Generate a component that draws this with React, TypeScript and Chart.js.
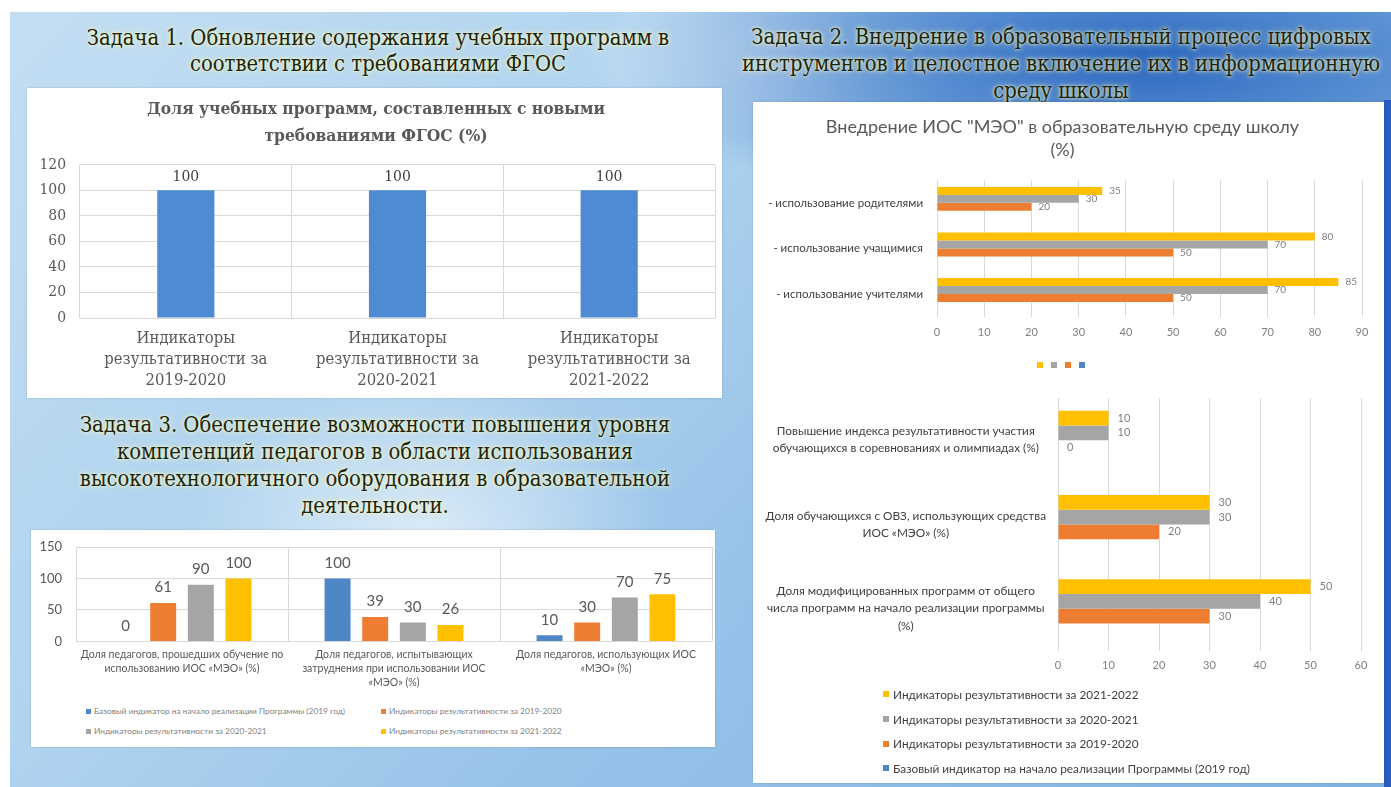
import React, { useEffect, useRef } from 'react';
import { Chart, registerables } from 'chart.js';

Chart.register(...registerables);

const SERIF = '"DejaVu Serif Condensed", "Liberation Serif", serif';
const SANS = 'Lato, "Open Sans", sans-serif';

// ---------- data ----------
const seriesNames = [
  'Базовый индикатор на начало реализации Программы (2019 год)',
  'Индикаторы результативности за 2019-2020',
  'Индикаторы результативности за 2020-2021',
  'Индикаторы результативности за 2021-2022',
];
const seriesColors = ['#4f86c6', '#ed7d31', '#a5a5a5', '#ffc000'];

// Task 1
const task1Title = ['Доля учебных программ, составленных с новыми', 'требованиями ФГОС (%)'];
const task1Categories = [
  ['Индикаторы', 'результативности за', '2019-2020'],
  ['Индикаторы', 'результативности за', '2020-2021'],
  ['Индикаторы', 'результативности за', '2021-2022'],
];
const task1Values = [100, 100, 100];

// Task 3
const task3Categories = [
  ['Доля педагогов, прошедших обучение по', 'использованию ИОС «МЭО» (%)'],
  ['Доля педагогов, испытывающих', 'затруднения при использовании ИОС', '«МЭО» (%)'],
  ['Доля педагогов, использующих ИОС', '«МЭО» (%)'],
];
const task3Base = [0, 100, 10];
const task3Y2019 = [61, 39, 30];
const task3Y2020 = [90, 30, 70];
const task3Y2021 = [100, 26, 75];

// Task 2 – IOS
const iosTitle = ['Внедрение ИОС "МЭО" в образовательную среду школу', '(%)'];
const iosCategories = ['- использование родителями', '- использование учащимися', '- использование учителями'];
const ios2021 = [35, 80, 85];
const ios2020 = [30, 70, 70];
const ios2019 = [20, 50, 50];
const iosBase = [null, null, null];

// Task 2 – education results
const eduCategories = [
  ['Повышение индекса результативности участия', 'обучающихся в соревнованиях и олимпиадах (%)'],
  ['Доля обучающихся с ОВЗ, использующих средства', 'ИОС «МЭО» (%)'],
  ['Доля модифицированных программ от общего', 'числа программ на начало реализации программы', '(%)'],
];
const edu2021 = [10, 30, 50];
const edu2020 = [10, 30, 40];
const edu2019 = [0, 20, 30];
const eduBase = [null, null, null];

// ---------- value label plugin ----------
const valueLabels = {
  id: 'valueLabels',
  afterDatasetsDraw(chart: any, _args: any, opts: any) {
    if (!opts || !opts.font) return;
    const { ctx } = chart;
    ctx.save();
    ctx.font = opts.font;
    ctx.fillStyle = opts.color;
    chart.data.datasets.forEach((ds: any, i: number) => {
      const meta = chart.getDatasetMeta(i);
      meta.data.forEach((el: any, j: number) => {
        const v = ds.data[j];
        if (v === null || v === undefined) return;
        if (opts.horizontal) {
          ctx.textAlign = 'left';
          ctx.textBaseline = 'middle';
          ctx.fillText(String(v), el.x + opts.offset, el.y + (opts.dy || 0));
        } else {
          ctx.textAlign = 'center';
          ctx.textBaseline = 'bottom';
          ctx.fillText(String(v), el.x, el.y - opts.offset);
        }
      });
    });
    ctx.restore();
  },
};

const GRID = '#d9d9d9';
const noVPad = (w: number) => (s: any) => {
  s.width = w;
  s.paddingTop = 0;
  s.paddingBottom = 0;
};

function makeTask1(): any {
  return {
    type: 'bar',
    data: {
      labels: task1Categories,
      datasets: [{ data: task1Values, backgroundColor: '#4e8bd3', barPercentage: 0.27, categoryPercentage: 1 }],
    },
    options: {
      animation: false,
      responsive: true,
      maintainAspectRatio: false,
      layout: { padding: { left: 10, right: 7, top: 8, bottom: 0 } },
      plugins: {
        legend: { display: false },
        tooltip: { enabled: false },
        title: {
          display: true,
          text: task1Title,
          color: '#595959',
          font: { family: SERIF, size: 17.3, weight: 'bold', lineHeight: 1.55 },
          padding: { top: 0, bottom: 15 },
        },
        valueLabels: { font: `15.5px ${SERIF}`, color: '#404040', offset: 5 },
      },
      scales: {
        x: {
          grid: { color: GRID, drawTicks: false },
          border: { display: false },
          ticks: { color: '#595959', font: { family: SERIF, size: 16.5, lineHeight: 1.27 }, padding: 10, maxRotation: 0, minRotation: 0, autoSkip: false },
          afterFit: (s: any) => { s.height = 80; },
        },
        y: {
          min: 0,
          max: 120,
          ticks: { stepSize: 20, color: '#595959', font: { family: SERIF, size: 15.5 }, padding: 14 },
          grid: { color: GRID, drawTicks: false },
          border: { display: false },
          afterFit: noVPad(43),
        },
      },
    },
    plugins: [valueLabels],
  };
}

function makeTask3(): any {
  const vals = [task3Base, task3Y2019, task3Y2020, task3Y2021];
  return {
    type: 'bar',
    data: {
      labels: task3Categories,
      datasets: vals.map((d, i) => ({
        label: seriesNames[i],
        data: d,
        backgroundColor: seriesColors[i],
        barPercentage: 0.69,
        categoryPercentage: 0.71,
      })),
    },
    options: {
      animation: false,
      responsive: true,
      maintainAspectRatio: false,
      layout: { padding: { left: 8, right: 3, top: 17, bottom: 6 } },
      plugins: {
        legend: { display: false },
        tooltip: { enabled: false },
        valueLabels: { font: `15px ${SANS}`, color: '#595959', offset: 8 },
      },
      scales: {
        x: {
          grid: { color: GRID, drawTicks: false },
          border: { display: false },
          ticks: { color: '#595959', font: { family: SANS, size: 10.5, lineHeight: 1.35 }, padding: 6, maxRotation: 0, minRotation: 0, autoSkip: false },
        },
        y: {
          min: 0,
          max: 150,
          ticks: { stepSize: 50, color: '#595959', font: { family: SANS, size: 13 }, padding: 14 },
          grid: { color: GRID, drawTicks: false },
          border: { display: false },
          afterFit: noVPad(37),
        },
      },
    },
    plugins: [valueLabels],
  };
}

function makeIos(): any {
  const vals = [ios2021, ios2020, ios2019, iosBase];
  const order = [3, 2, 1, 0];
  return {
    type: 'bar',
    data: {
      labels: iosCategories,
      datasets: vals.map((d, i) => ({
        label: '',
        data: d,
        backgroundColor: seriesColors[order[i]],
        barPercentage: 1,
        categoryPercentage: 0.7,
      })),
    },
    options: {
      indexAxis: 'y',
      animation: false,
      responsive: true,
      maintainAspectRatio: false,
      layout: { padding: { left: 10, right: 23, top: 14, bottom: 2 } },
      plugins: {
        tooltip: { enabled: false },
        title: {
          display: true,
          text: iosTitle,
          color: '#595959',
          font: { family: SANS, size: 18, weight: 'normal', lineHeight: 1.28 },
          padding: { top: 0, bottom: 18 },
        },
        legend: {
          display: true,
          position: 'bottom',
          labels: { boxWidth: 6, boxHeight: 6, font: { size: 6 }, padding: 5 },
        },
        valueLabels: { font: `10px ${SANS}`, color: '#7f7f7f', offset: 7, dy: 0, horizontal: true },
      },
      scales: {
        x: {
          min: 0,
          max: 90,
          ticks: { stepSize: 10, color: '#7f7f7f', font: { family: SANS, size: 11 }, padding: 9 },
          grid: { color: GRID, drawTicks: false },
          border: { display: false },
          afterFit: (s: any) => { s.height = s.height + 9; },
        },
        y: {
          grid: { display: false, drawTicks: false },
          border: { display: false },
          ticks: { color: '#404040', font: { family: SANS, size: 11.5 }, padding: 14 },
          afterFit: noVPad(174),
        },
      },
    },
    plugins: [valueLabels],
  };
}

function makeEdu(): any {
  const vals = [edu2021, edu2020, edu2019, eduBase];
  const order = [3, 2, 1, 0];
  return {
    type: 'bar',
    data: {
      labels: eduCategories,
      datasets: vals.map((d, i) => ({
        label: seriesNames[order[i]],
        data: d,
        backgroundColor: seriesColors[order[i]],
        barPercentage: 1,
        categoryPercentage: 0.7,
      })),
    },
    options: {
      indexAxis: 'y',
      animation: false,
      responsive: true,
      maintainAspectRatio: false,
      layout: { padding: { left: 10, right: 24, top: 18, bottom: 10 } },
      plugins: {
        tooltip: { enabled: false },
        legend: { display: false },
        valueLabels: { font: `11px ${SANS}`, color: '#7f7f7f', offset: 9, dy: 0, horizontal: true },
      },
      scales: {
        x: {
          min: 0,
          max: 60,
          ticks: { stepSize: 10, color: '#7f7f7f', font: { family: SANS, size: 11 }, padding: 8 },
          grid: { color: GRID, drawTicks: false },
          border: { display: false },
        },
        y: {
          grid: { display: false, drawTicks: false },
          border: { display: false },
          ticks: { color: '#404040', font: { family: SANS, size: 11.8, lineHeight: 1.45 }, padding: 12, crossAlign: 'center' },
          afterFit: noVPad(295),
        },
      },
    },
    plugins: [valueLabels],
  };
}

function ChartBox({ make, style }: { make: () => any; style: React.CSSProperties }) {
  const ref = useRef<HTMLCanvasElement | null>(null);
  useEffect(() => {
    const c = new Chart(ref.current as HTMLCanvasElement, make());
    return () => c.destroy();
  }, []);
  return (
    <div style={{ position: 'absolute', ...style }}>
      <canvas ref={ref} />
    </div>
  );
}

const titleStyle: React.CSSProperties = {
  position: 'absolute',
  textAlign: 'center',
  fontFamily: SERIF,
  fontSize: 21.8,
  color: '#1c2410',
  whiteSpace: 'nowrap',
  textShadow: '0 0 3px rgba(255,255,205,0.95), 0 0 6px rgba(250,250,180,0.8)',
};

const panel: React.CSSProperties = {
  position: 'absolute',
  background: '#ffffff',
  boxShadow: '0 0 2px rgba(0,0,0,0.18)',
};

function Legend3() {
  return (
    <div style={{ position: 'absolute', left: 86, top: 705, display: 'grid', gridTemplateColumns: '295px 220px', rowGap: 8, fontFamily: SANS, fontSize: 8.3, color: '#7f7f7f' }}>
      {seriesNames.map((n, i) => (
        <div key={i} style={{ display: 'flex', alignItems: 'center', height: 12, whiteSpace: 'nowrap' }}>
          <span style={{ display: 'inline-block', width: 5, height: 5, background: seriesColors[i], marginRight: 3 }} />
          {n}
        </div>
      ))}
    </div>
  );
}

function Legend4() {
  const order = [3, 2, 1, 0];
  return (
    <div style={{ position: 'absolute', left: 883, top: 682, fontFamily: SANS, fontSize: 11.8, color: '#404040' }}>
      {order.map((k) => (
        <div key={k} style={{ display: 'flex', alignItems: 'center', height: 24.7, whiteSpace: 'nowrap' }}>
          <span style={{ display: 'inline-block', width: 6, height: 6, background: seriesColors[k], marginRight: 4 }} />
          {seriesNames[k]}
        </div>
      ))}
    </div>
  );
}

export default function App() {
  return (
    <div style={{ position: 'absolute', left: 0, top: 0, width: 1391, height: 787, background: '#ffffff', overflow: 'hidden' }}>
      <div
        style={{
          position: 'absolute',
          left: 10,
          top: 12,
          right: 0,
          bottom: 0,
          background:
            'radial-gradient(ellipse 38% 22% at 82% 6%, rgba(38,98,190,0.95) 0%, rgba(60,120,200,0.6) 55%, rgba(60,120,200,0) 100%),' +
            'radial-gradient(ellipse 25% 30% at 30% 68%, rgba(255,255,255,0.6), rgba(255,255,255,0) 70%),' +
            'radial-gradient(ellipse 20% 14% at 55% 6%, rgba(255,255,255,0.45), rgba(255,255,255,0) 70%),' +
            'linear-gradient(135deg, #c3def3 0%, #b0d3ef 35%, #97c3e9 60%, #7fb2e1 100%)',
        }}
      />
      <div style={{ position: 'absolute', left: 1384, top: 100, width: 7, height: 687, background: '#2a5cc0' }} />

      <div style={{ ...titleStyle, left: 78, width: 600, top: 25, lineHeight: '26px' }}>
        Задача 1. Обновление содержания учебных программ в<br />соответствии с требованиями ФГОС
      </div>
      <div style={{ ...titleStyle, left: 736, width: 650, top: 23, lineHeight: '27px' }}>
        Задача 2. Внедрение в образовательный процесс цифровых<br />инструментов и целостное включение их в информационную<br />среду школы
      </div>
      <div style={{ ...titleStyle, left: 65, width: 620, top: 411, lineHeight: '27px' }}>
        Задача 3. Обеспечение возможности повышения уровня<br />компетенций педагогов в области использования<br />высокотехнологичного оборудования в образовательной<br />деятельности.
      </div>

      <div style={{ ...panel, left: 27, top: 88, width: 695, height: 310 }} />
      <div style={{ ...panel, left: 31, top: 530, width: 684, height: 217 }} />
      <div style={{ ...panel, left: 753, top: 102, width: 631, height: 681 }} />

      <ChartBox make={makeTask1} style={{ left: 27, top: 88, width: 695, height: 310 }} />
      <ChartBox make={makeTask3} style={{ left: 31, top: 530, width: 684, height: 172 }} />
      <ChartBox make={makeIos} style={{ left: 753, top: 102, width: 632, height: 278 }} />
      <ChartBox make={makeEdu} style={{ left: 753, top: 380, width: 632, height: 310 }} />
      <Legend3 />
      <Legend4 />
    </div>
  );
}
